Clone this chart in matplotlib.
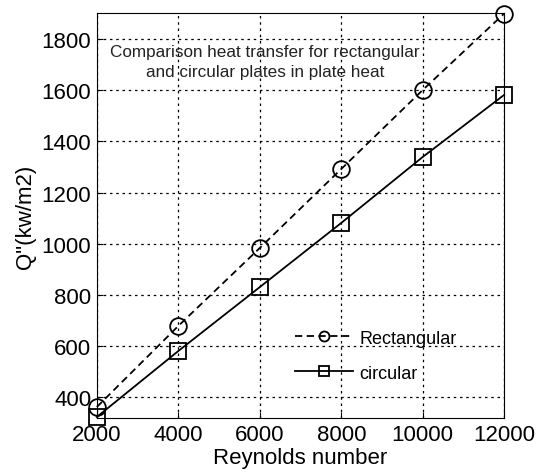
import matplotlib
matplotlib.use("Agg")
import matplotlib.pyplot as plt

reynolds = [2000, 4000, 6000, 8000, 10000, 12000]
rectangular = [361, 678, 983, 1292, 1601, 1900]
circular = [322, 580, 830, 1081, 1339, 1582]
xticks = [2000, 4000, 6000, 8000, 10000, 12000]
yticks = [400, 600, 800, 1000, 1200, 1400, 1600, 1800]

plt.rcParams['font.family'] = ['Liberation Sans', 'DejaVu Sans']

fig = plt.figure(figsize=(5.41, 4.77), dpi=100)
ax = fig.add_axes([0.179, 0.1216, 0.753, 0.849])

ax.plot(reynolds, rectangular, color='black', linestyle=(0, (4, 2.5)), lw=1.3,
        marker='o', markersize=12, markerfacecolor='none', markeredgecolor='black',
        markeredgewidth=1.3, label='Rectangular', clip_on=False, zorder=3)
ax.plot(reynolds, circular, color='black', linestyle='-', lw=1.3,
        marker='s', markersize=11, markerfacecolor='none', markeredgecolor='black',
        markeredgewidth=1.3, label='circular', clip_on=False, zorder=3)

ax.set_xlim(2000, 12000)
ax.set_ylim(318, 1902)
ax.set_xticks(xticks)
ax.set_yticks(yticks)
ax.tick_params(labelsize=16, direction='in', length=4, pad=4)
ax.grid(True, color='black', linestyle=(0, (2, 3)), linewidth=0.9)
ax.set_axisbelow(True)
ax.set_xlabel('Reynolds number', fontsize=16, labelpad=2)
ax.set_ylabel('Q"(kw/m2)', fontsize=16, labelpad=4)

ax.text(6130, 1753, 'Comparison heat transfer for rectangular', ha='center', va='center', fontsize=12.3, color='#222222')
ax.text(6130, 1675, 'and circular plates in plate heat', ha='center', va='center', fontsize=12.3, color='#222222')

ax.legend(loc='center left', bbox_to_anchor=(0.469, 0.154), frameon=False, fontsize=13,
          handlelength=3.2, handletextpad=0.35, labelspacing=1.0, borderaxespad=0,
          markerscale=0.6)

fig.savefig('out.png', dpi=100)
